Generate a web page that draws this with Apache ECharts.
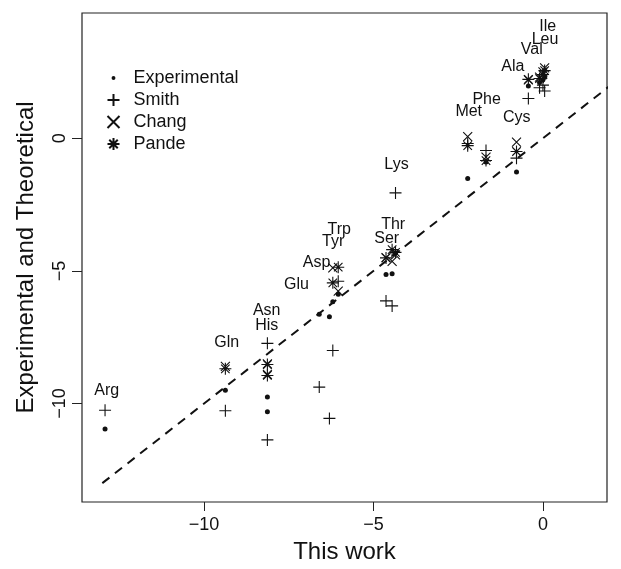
<!DOCTYPE html>
<html>
<head>
<meta charset="utf-8">
<script src="https://cdn.jsdelivr.net/npm/echarts@6/dist/echarts.min.js"></script>
<style>
html,body{margin:0;padding:0;background:#fff;}
#c{width:621px;height:569px;}
</style>
</head>
<body>
<div id="c"></div>
<script>
// Amino acids, "This work" value and the comparison values
const acids = ['Arg','Gln','Asn','His','Glu','Asp','Tyr','Trp','Lys','Thr','Ser','Met','Phe','Cys','Ala','Val','Leu','Ile'];
const thisWork = [-12.92,-9.37,-8.13,-8.13,-6.6,-6.3,-6.2,-6.04,-4.35,-4.45,-4.63,-2.22,-1.68,-0.78,-0.43,-0.1,0.0,0.05];
const experimental = [-10.96,-9.5,-9.75,-10.31,-6.63,-6.73,-6.16,-5.88,-4.33,-5.11,-5.14,-1.52,-0.9,-1.27,1.97,2.1,2.2,2.3];
const smith = [-10.25,-10.27,-7.73,-11.37,-9.38,-10.56,-8.0,-5.39,-2.06,-6.32,-6.13,-0.2,-0.46,-0.75,1.5,1.9,2.0,1.78];
const chang = [null,-8.6,-8.5,-8.9,null,null,-4.89,-5.76,-4.4,-4.64,-4.5,0.06,-0.71,-0.15,2.2,2.3,2.5,2.65];
const pande = [null,-8.69,-8.53,-8.94,null,null,-5.45,-4.86,-4.3,-4.2,-4.51,-0.28,-0.84,-0.5,2.22,2.25,2.4,2.55];

// Annotation anchors (data units) for the amino-acid names
const labelX = [-12.87,-9.33,-8.15,-8.15,-7.27,-6.68,-6.19,-6.01,-4.32,-4.42,-4.61,-2.19,-1.66,-0.77,-0.89,-0.33,0.06,0.14];
const labelY = [-9.5,-7.69,-6.51,-7.07,-5.51,-4.7,-3.89,-3.46,-1.0,-3.27,-3.77,0.99,1.47,0.79,2.7,3.34,3.71,4.21];

const xTicks = [-10,-5,0];
const yTicks = [-10,-5,0];
const diagonal = [-13, 2];

const FONT = '"Liberation Sans", Arial, Helvetica, sans-serif';
const INK = '#111';

function pairs(ys){ const out=[]; ys.forEach((v,i)=>{ if(v!==null) out.push([thisWork[i], v]); }); return out; }
const fmt = v => (v < 0 ? '\u2212' + Math.abs(v) : String(v));

const plusPath = 'path://M0,5L10,5M5,0L5,10';
const crossPath = 'path://M0,0L10,10M10,0L0,10';
const starPath = 'path://M0,5L10,5M5,0L5,10M1.46,1.46L8.54,8.54M8.54,1.46L1.46,8.54';
const smallDot = 'path://M0,0M10,10M3.4,5A1.6,1.6,0,1,1,6.6,5A1.6,1.6,0,1,1,3.4,5Z';

const strokeStyle = {color:'none', borderColor:'#111', borderWidth:1.1, opacity:1};

const chart = echarts.init(document.getElementById('c'), null, {renderer:'canvas'});
chart.setOption({
  animation:false,
  backgroundColor:'#fff',
  textStyle:{fontFamily:FONT},
  grid:{left:82, top:13, width:525, height:493, show:true, borderColor:'#222', borderWidth:1.2, backgroundColor:'transparent'},
  legend:{
    left:100, top:64, orient:'vertical', itemGap:4, itemWidth:12, itemHeight:12,
    textStyle:{fontFamily:FONT, fontSize:18, color:INK, padding:[0,0,0,9]},
    data:[
      {name:'Experimental', icon:smallDot, itemStyle:{color:'#111', borderWidth:0}},
      {name:'Smith'},{name:'Chang'},{name:'Pande'}
    ]
  },
  xAxis:{
    type:'value', min:-13.6, max:1.89,
    name:'This work', nameLocation:'middle', nameGap:38,
    nameTextStyle:{fontFamily:FONT, fontSize:24, color:INK},
    splitLine:{show:false},
    axisLine:{show:false, onZero:false},
    axisTick:{show:true, length:9, customValues:xTicks, lineStyle:{color:'#222', width:1}},
    axisLabel:{customValues:xTicks, formatter:fmt, fontSize:18, color:INK, margin:14, fontFamily:FONT}
  },
  yAxis:{
    type:'value', min:-13.71, max:4.72,
    name:'Experimental and Theoretical', nameLocation:'middle', nameGap:44,
    nameTextStyle:{fontFamily:FONT, fontSize:24, color:INK},
    splitLine:{show:false},
    axisLine:{show:false, onZero:false},
    axisTick:{show:true, length:10, customValues:yTicks, lineStyle:{color:'#222', width:1}},
    axisLabel:{customValues:yTicks, formatter:fmt, fontSize:18, color:INK, margin:13, rotate:90, fontFamily:FONT}
  },
  series:[
    {
      name:'diagonal', type:'line', data:diagonal.map(v=>[v,v]), symbol:'none', clip:true,
      lineStyle:{color:'#111', width:2, type:[9,7]}, silent:true, z:1
    },
    {
      name:'Experimental', type:'scatter', data:pairs(experimental), symbol:'circle', symbolSize:5,
      itemStyle:{color:'#111', opacity:1}, z:3
    },
    {
      name:'Smith', type:'scatter', data:pairs(smith), symbol:plusPath, symbolSize:12,
      itemStyle:strokeStyle, z:3
    },
    {
      name:'Chang', type:'scatter', data:pairs(chang), symbol:crossPath, symbolSize:9,
      itemStyle:strokeStyle, z:3
    },
    {
      name:'Pande', type:'scatter', data:pairs(pande), symbol:starPath, symbolSize:12,
      itemStyle:strokeStyle, z:3
    },
    {
      name:'names', type:'scatter', symbol:'circle', symbolSize:1, silent:true,
      itemStyle:{color:'rgba(0,0,0,0)', opacity:1},
      data:acids.map((a,i)=>({value:[labelX[i], labelY[i]], name:a})),
      label:{show:true, position:'inside', formatter:p=>p.name, fontSize:16, color:INK, fontFamily:FONT, textBorderWidth:0},
      labelLayout:{hideOverlap:false},
      z:4
    }
  ]
});
</script>
</body>
</html>
